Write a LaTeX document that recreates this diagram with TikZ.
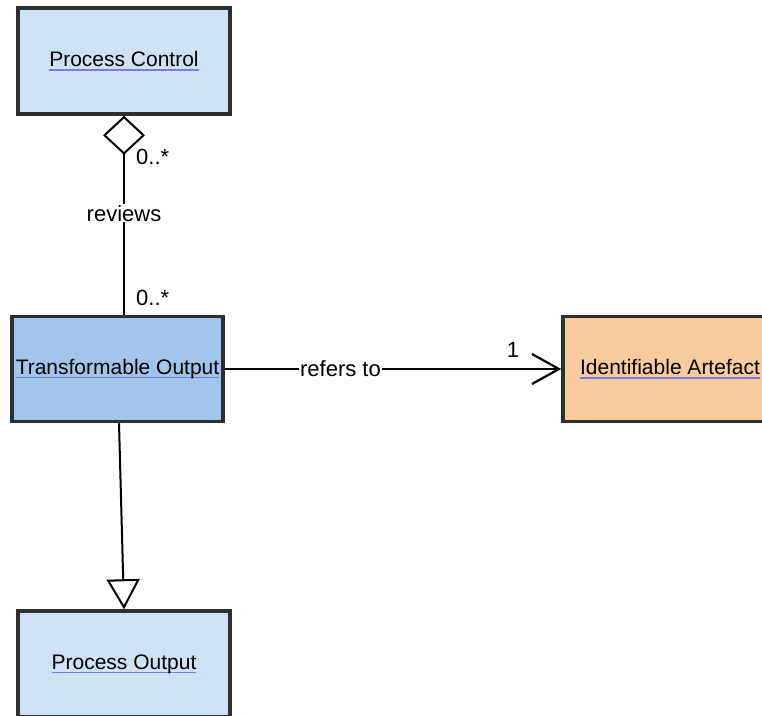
\documentclass[tikz,border=0pt]{standalone}
\usepackage{fontspec}
\setmainfont{Liberation Sans}
\usetikzlibrary{arrows.meta}
\definecolor{pcfill}{HTML}{CFE2F3}
\definecolor{tofill}{HTML}{9FC5E8}
\definecolor{iafill}{HTML}{F9CB9C}
\definecolor{boxedge}{HTML}{2E2E2E}
\definecolor{linkblue}{HTML}{7B7BE8}
\newcommand{\lnktext}[1]{\setbox0\hbox{#1}\rlap{\textcolor{linkblue}{\rule[-4pt]{\wd0}{1.5pt}}}\box0}
\tikzset{
  classbox/.style={draw=boxedge, line width=3.5pt, minimum width=212pt, minimum height=106pt,
    inner sep=0pt, font=\fontsize{21}{25}\selectfont},
  conn/.style={draw=black, line width=2pt},
  lbl/.style={font=\fontsize{22}{26}\selectfont, inner sep=1pt},
}
\begin{document}
\begin{tikzpicture}[x=1pt, y=-1pt]
\useasboundingbox (0,0) rectangle (762,715);
\node[classbox, fill=pcfill] (pc) at (124,61) {\lnktext{Process Control}};
\node[classbox, fill=tofill, minimum width=211pt, minimum height=105pt] (to) at (117.5,369) {\lnktext{Transformable Output}};
\node[classbox, fill=iafill, minimum width=214pt, minimum height=105pt] (ia) at (670,369) {\lnktext{Identifiable Artefact}};
\node[classbox, fill=pcfill] (po) at (124,664) {\lnktext{Process Output}};
% reviews association
\draw[conn, {Diamond[open, length=39pt, width=42pt, line width=2pt]}-] (pc.south) -- (pc.south |- to.north)
  node[lbl, pos=0.49, fill=white] {reviews};
\node[lbl, anchor=west] (m1) at (135,157) {0..*};
\node[lbl, anchor=west] (m2) at (135,298) {0..*};
% refers to
\draw[conn, -{Straight Barb[length=27pt, width=30pt, line width=2.2pt]}] (to.east) -- (ia.west)
  node[lbl, pos=0.344, fill=white] {refers to};
\node[lbl] (m3) at (513,350) {1};
% generalization
\draw[conn, -{Triangle[open, length=30pt, width=33pt, line width=2pt]}] ([xshift=1.5pt]to.south) -- (po.north);
\end{tikzpicture}
\end{document}
